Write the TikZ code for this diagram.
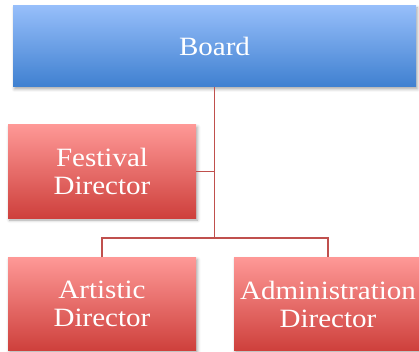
\documentclass[tikz,border=0pt]{standalone}
\usepackage{fontspec}
\setmainfont{Liberation Serif}[FakeStretch=1.1]
\usetikzlibrary{shadows.blur}
\definecolor{bluetop}{HTML}{96BEFA}
\definecolor{bluebot}{HTML}{3F80D0}
\definecolor{redtop}{HTML}{FE9896}
\definecolor{redbot}{HTML}{CE403C}
\definecolor{conn}{HTML}{C0504D}
\begin{document}
\begin{tikzpicture}[x=1pt,y=-1pt,
  box/.style={rectangle, inner sep=0pt, text=white, align=center,
    font=\fontsize{26.4}{28}\selectfont,
    blur shadow={shadow xshift=1.5pt, shadow yshift=-2pt, shadow blur radius=3pt, shadow opacity=35}},
  bluebox/.style={box, top color=bluetop, bottom color=bluebot},
  redbox/.style={box, top color=redtop, bottom color=redbot, minimum width=188pt, minimum height=93pt},
  link/.style={draw=conn, line width=1.8pt}]
\useasboundingbox (0,0) rectangle (419,352);
\begin{scope}
\clip (0,0) rectangle (419,352);
\node[bluebox, minimum width=403pt, minimum height=81pt] (board) at (214.5,46.5) {Board};
\node[redbox] (fest) at (102,171.5) {Festival\\Director};
\node[redbox] (art) at (102,304) {Artistic\\Director};
\node[redbox] (adm) at (328,304) {Administration\\Director};
\coordinate (bus) at (214.5,237.7);
\draw[link] (board.south) -- (bus);
\draw[link] (fest.east) -- (fest.east -| bus);
\draw[link] (art.north) |- (bus) -| (adm.north);
\end{scope}
\end{tikzpicture}
\end{document}
